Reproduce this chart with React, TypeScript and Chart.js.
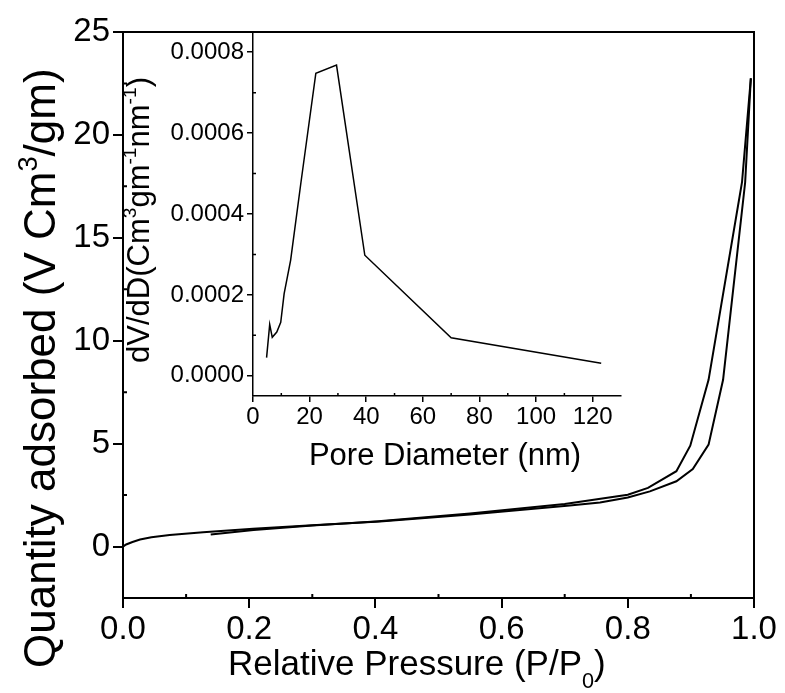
import React, { useEffect, useRef } from 'react';
import { Chart, registerables } from 'chart.js';

Chart.register(...registerables);

const FONT = '"Liberation Sans", Arial, Helvetica, sans-serif';

// ---- Main isotherm (Relative pressure P/P0 vs quantity adsorbed) ----
const adsP = [0, 0.005, 0.015, 0.027, 0.045, 0.074, 0.127, 0.206, 0.3, 0.407, 0.55, 0.708, 0.756, 0.8, 0.835, 0.877, 0.903, 0.928, 0.951, 0.986, 0.995];
const adsQ = [0, 0.1, 0.22, 0.34, 0.45, 0.56, 0.69, 0.86, 1.04, 1.22, 1.56, 2.0, 2.14, 2.38, 2.68, 3.17, 3.77, 4.95, 8.1, 17.7, 22.75];
const desP = [0.995, 0.981, 0.928, 0.899, 0.877, 0.832, 0.8, 0.7, 0.55, 0.4, 0.3, 0.207, 0.139];
const desQ = [22.75, 17.7, 8.1, 4.9, 3.66, 2.85, 2.52, 2.07, 1.6, 1.22, 1.02, 0.8, 0.58];

// ---- Inset: pore size distribution ----
const poreD = [4.8, 5.9, 6.8, 8.4, 9.8, 11, 13.3, 16.9, 22.2, 29.5, 39.5, 70, 123];
const poreV = [0.000045, 0.000127, 0.000095, 0.000108, 0.000132, 0.000203, 0.000286, 0.000476, 0.000748, 0.000768, 0.000298, 0.000094, 0.000031];

// ---- Ticks ----
const mainXTicks = [0, 0.2, 0.4, 0.6, 0.8, 1.0];
const mainXMinor = [0.1, 0.3, 0.5, 0.7, 0.9];
const mainYTicks = [0, 5, 10, 15, 20, 25];
const mainYMinor = [2.5, 7.5, 12.5, 17.5, 22.5];
const insetXTicks = [0, 20, 40, 60, 80, 100, 120];
const insetXMinor = [10, 30, 50, 70, 90, 110];
const insetYTicks = [0, 0.0002, 0.0004, 0.0006, 0.0008];
const insetYMinor = [0.0001, 0.0003, 0.0005, 0.0007];

type Seg = { t: string; k?: 'sup' | 'sub' };

function drawRich(ctx: CanvasRenderingContext2D, segs: Seg[], x: number, y: number, size: number, align: 'left' | 'center', angle: number) {
  ctx.save();
  ctx.translate(x, y);
  ctx.rotate(angle);
  ctx.fillStyle = '#000';
  ctx.textBaseline = 'alphabetic';
  ctx.textAlign = 'left';
  const fs = (s: Seg) => (s.k ? size * 0.62 : size);
  let w = 0;
  segs.forEach((s) => {
    ctx.font = `${fs(s)}px ${FONT}`;
    w += ctx.measureText(s.t).width;
  });
  let cx = align === 'center' ? -w / 2 : 0;
  segs.forEach((s) => {
    ctx.font = `${fs(s)}px ${FONT}`;
    const dy = s.k === 'sup' ? -size * 0.42 : s.k === 'sub' ? size * 0.38 : 0;
    ctx.fillText(s.t, cx, dy);
    cx += ctx.measureText(s.t).width;
  });
  ctx.restore();
}

type Title = { segs: Seg[]; x: number; y: number; size: number; align: 'left' | 'center'; angle: number };

function extrasPlugin(o: { minorX: number[]; minorY: number[]; minorLen: number; lw: number; frame: boolean; titles: Title[] }) {
  return {
    id: 'extras',
    afterDraw(chart: any) {
      const { ctx, chartArea: a, scales } = chart;
      const xs = scales.x;
      const ys = scales.y;
      ctx.save();
      ctx.strokeStyle = '#000';
      ctx.lineWidth = o.lw;
      ctx.beginPath();
      o.minorX.forEach((v) => {
        const px = xs.getPixelForValue(v);
        ctx.moveTo(px, a.bottom);
        ctx.lineTo(px, a.bottom - o.minorLen);
      });
      o.minorY.forEach((v) => {
        const py = ys.getPixelForValue(v);
        ctx.moveTo(a.left, py);
        ctx.lineTo(a.left + o.minorLen, py);
      });
      ctx.stroke();
      if (o.frame) {
        ctx.beginPath();
        ctx.moveTo(a.left - 1, a.top);
        ctx.lineTo(a.right, a.top);
        ctx.lineTo(a.right, a.bottom + 1);
        ctx.stroke();
      }
      ctx.restore();
      o.titles.forEach((t) => drawRich(ctx, t.segs, t.x, t.y, t.size, t.align, t.angle));
    },
  };
}

function axisOpts(min: number, max: number, ticks: number[], fmt: (v: number) => string, size: number, tickLen: number, lw: number, pad: number, horizontal: boolean, boxSize: number) {
  return {
    type: 'linear' as const,
    min,
    max,
    afterFit: (s: any) => {
      if (horizontal) s.height = boxSize;
      else s.width = boxSize;
    },
    afterBuildTicks: (s: any) => {
      s.ticks = ticks.map((v) => ({ value: v }));
    },
    grid: { display: true, drawOnChartArea: false, drawTicks: true, tickLength: tickLen, color: '#000', lineWidth: lw },
    border: { display: true, color: '#000', width: lw },
    ticks: {
      display: true,
      color: '#000',
      font: { family: FONT, size },
      padding: pad,
      maxRotation: 0,
      minRotation: 0,
      autoSkip: false,
      callback: (v: any) => fmt(Number(v)),
    },
  };
}

export default function App() {
  const mainRef = useRef<HTMLCanvasElement>(null);
  const insetRef = useRef<HTMLCanvasElement>(null);

  useEffect(() => {
    document.body.style.margin = '0';
    const main = new Chart(mainRef.current!, {
      type: 'line',
      data: {
        datasets: [
          { data: adsP.map((x, i) => ({ x, y: adsQ[i] })), borderColor: '#000', borderWidth: 2, pointRadius: 0, tension: 0, fill: false },
          { data: desP.map((x, i) => ({ x, y: desQ[i] })), borderColor: '#000', borderWidth: 2, pointRadius: 0, tension: 0, fill: false },
        ],
      },
      options: {
        responsive: false,
        animation: false,
        events: [],
        layout: { padding: { left: 0, right: 31, top: 32, bottom: 0 } },
        plugins: { legend: { display: false }, tooltip: { enabled: false } },
        scales: {
          x: axisOpts(0, 1, mainXTicks, (v) => v.toFixed(1), 33, 10, 2, 2, true, 95),
          y: axisOpts(-2.5, 25, mainYTicks, (v) => String(Math.round(v)), 33, 10, 2, 3, false, 123),
        },
      } as any,
      plugins: [
        extrasPlugin({
          minorX: mainXMinor,
          minorY: mainYMinor,
          minorLen: 4,
          lw: 2,
          frame: true,
          titles: [
            { segs: [{ t: 'Relative Pressure (P/P' }, { t: '0', k: 'sub' }, { t: ')' }], x: 228, y: 675, size: 35, align: 'left', angle: 0 },
            { segs: [{ t: 'Quantity adsorbed (V Cm' }, { t: '3', k: 'sup' }, { t: '/gm)' }], x: 55, y: 668, size: 44, align: 'left', angle: -Math.PI / 2 },
          ],
        }),
      ],
    });

    const inset = new Chart(insetRef.current!, {
      type: 'line',
      data: {
        datasets: [
          { data: poreD.map((x, i) => ({ x, y: poreV[i] })), borderColor: '#000', borderWidth: 1.5, pointRadius: 0, tension: 0, fill: false },
        ],
      },
      options: {
        responsive: false,
        animation: false,
        events: [],
        layout: { padding: { left: 0, right: 164, top: 32, bottom: 0 } },
        plugins: { legend: { display: false }, tooltip: { enabled: false } },
        scales: {
          x: axisOpts(0, 130, insetXTicks, (v) => String(Math.round(v)), 24, 6, 1.5, 1, true, 297),
          y: axisOpts(-0.00005, 0.00085, insetYTicks, (v) => v.toFixed(4), 24, 6, 1.5, 3, false, 253),
        },
      } as any,
      plugins: [
        extrasPlugin({
          minorX: insetXMinor,
          minorY: insetYMinor,
          minorLen: 3,
          lw: 1.5,
          frame: false,
          titles: [
            { segs: [{ t: 'Pore Diameter (nm)' }], x: 445, y: 465, size: 31, align: 'center', angle: 0 },
            {
              segs: [{ t: 'dV/dD(Cm' }, { t: '3', k: 'sup' }, { t: 'gm' }, { t: '-1', k: 'sup' }, { t: 'nm' }, { t: '-1', k: 'sup' }, { t: ')' }],
              x: 149,
              y: 220,
              size: 31,
              align: 'center',
              angle: -Math.PI / 2,
            },
          ],
        }),
      ],
    });

    return () => {
      main.destroy();
      inset.destroy();
    };
  }, []);

  return (
    <div style={{ position: 'relative', width: 785, height: 693, background: '#fff' }}>
      <canvas ref={mainRef} width={785} height={693} style={{ position: 'absolute', left: 0, top: 0 }} />
      <canvas ref={insetRef} width={785} height={693} style={{ position: 'absolute', left: 0, top: 0 }} />
    </div>
  );
}
